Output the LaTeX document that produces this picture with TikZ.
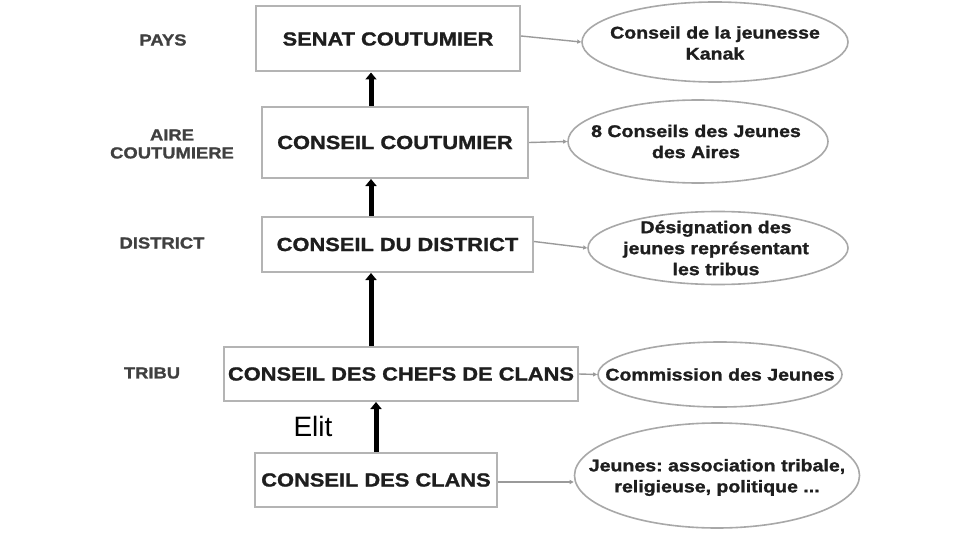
\documentclass[tikz,border=0pt]{standalone}
\usepackage{fontspec}
\setmainfont{Liberation Sans}
\newfontfamily\df[FakeStretch=1.15,BoldFeatures={FakeBold=1.2}]{Liberation Sans}
\usetikzlibrary{shapes.geometric,arrows.meta}
\definecolor{txt}{HTML}{1E1E1E}
\definecolor{frame}{HTML}{B4B4B4}
\definecolor{oval}{HTML}{A8A8A8}
\definecolor{link}{HTML}{9A9A9A}
\frenchspacing
\tikzset{
  box/.style={draw=frame, line width=2pt, rectangle, inner sep=0pt, text=txt,
    font=\df\bfseries\fontsize{19}{20}\selectfont},
  ovalbox/.style={draw=oval, line width=1.6pt, ellipse, inner sep=0pt},
  ovaltext/.style={text=txt, align=center, inner sep=0pt,
    font=\df\bfseries\fontsize{17}{21}\selectfont},
  level/.style={text=txt!85, align=center, font=\df\bfseries\fontsize{16}{18}\selectfont},
  up/.style={line width=5pt, -{Triangle[length=7pt,width=11pt]}, black},
  side/.style={draw=link, line width=1.4pt, -{Triangle[length=4pt,width=4pt]}}
}
\begin{document}
\begin{tikzpicture}[x=1pt,y=-1pt]
\fill[white] (0,0) rectangle (960,540);
\useasboundingbox (0,0) rectangle (960,540);
% boxes
\node[box, minimum width=264pt, minimum height=65pt] (b1) at (388,39) {SENAT COUTUMIER};
\node[box, minimum width=266pt, minimum height=71pt] (b2) at (395,142.5) {CONSEIL COUTUMIER};
\node[box, minimum width=271pt, minimum height=55pt] (b3) at (397.5,244.5) {CONSEIL DU DISTRICT};
\node[box, minimum width=354pt, minimum height=54pt] (b4) at (401,374) {CONSEIL DES CHEFS DE CLANS};
\node[box, minimum width=242pt, minimum height=54pt] (b5) at (376,480) {CONSEIL DES CLANS};
% level labels
\node[level] (l1) at (163,40) {PAYS};
\node[level] (l2) at (172,144) {AIRE\\COUTUMIERE};
\node[level] (l3) at (162,243) {DISTRICT};
\node[level] (l4) at (152,373) {TRIBU};
% ellipses
\node[ovalbox, minimum width=266pt, minimum height=80pt] (e1) at (715,42) {};
\node[ovalbox, minimum width=260pt, minimum height=83pt] (e2) at (698,141.5) {};
\node[ovalbox, minimum width=260pt, minimum height=73pt] (e3) at (718,248) {};
\node[ovalbox, minimum width=244pt, minimum height=65pt] (e4) at (720,374.5) {};
\node[ovalbox, minimum width=285pt, minimum height=105pt] (e5) at (717,475.5) {};
\node[ovaltext] (t1) at ([yshift=-1pt]e1.center) {Conseil de la jeunesse\\Kanak};
\node[ovaltext] (t2) at ([xshift=-2pt]e2.center) {8 Conseils des Jeunes\\des Aires};
\node[ovaltext] (t3) at ([xshift=-2pt]e3.center) {Désignation des\\jeunes représentant\\les tribus};
\node[ovaltext] (t4) at (e4.center) {Commission des Jeunes};
\node[ovaltext] (t5) at ([yshift=-2pt]e5.center) {Jeunes: association tribale,\\religieuse, politique ...};
% side connectors
\draw[side] ([yshift=3pt]b1.east) -- (e1.west);
\draw[side] (b2.east) -- (e2.west);
\draw[side] ([yshift=3pt]b3.east) -- (e3.west);
\draw[side] (b4.east) -- (e4.west);
\draw[side] ([yshift=-2pt]b5.east) -- ([yshift=-2pt]b5.east -| e5.west);
% upward arrows
\draw[up] ([xshift=-24pt]b2.north) -- ([xshift=-24pt]b2.north |- b1.south);
\draw[up] ([xshift=-26.5pt]b3.north) -- ([xshift=-26.5pt]b3.north |- b2.south);
\draw[up] ([xshift=-30pt]b4.north) -- ([xshift=-30pt]b4.north |- b3.south);
\draw[up] (b5.north) -- (b5.north |- b4.south);
% Elit
\node[font=\fontsize{28}{30}\selectfont, text=black, inner sep=0pt] (elit) at (313,426) {Elit};
\end{tikzpicture}
\end{document}
